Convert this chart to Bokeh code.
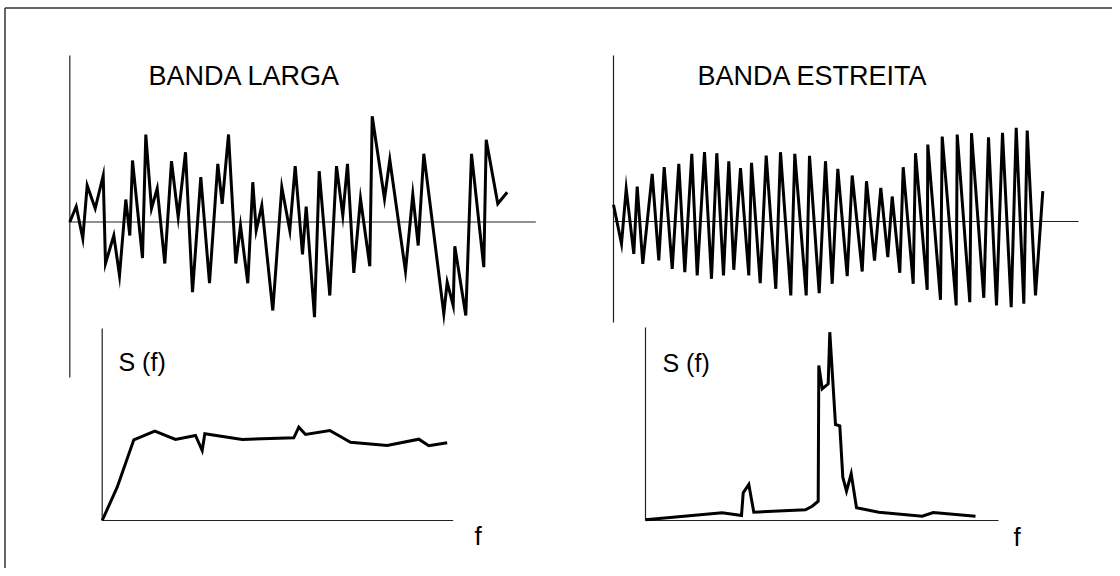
import numpy as np
from bokeh.plotting import figure
from bokeh.models import Range1d
from bokeh.core.properties import value
from bokeh.embed import file_html
from bokeh.resources import INLINE

# ---------------- data ----------------
# wide-band random signal: time, amplitude
wide_t = [0, 6.4, 13, 17.4, 25.4, 33.4, 35.7, 44, 49.7, 56, 60, 62.7, 72.7, 76, 81.7, 87.4,
          95, 101.7, 108.4, 115.7, 122.7, 131, 139.7, 148, 152.4, 158.7, 166, 170.7, 178, 183,
          186.4, 192, 203, 212, 220, 225.4, 232.7, 236.4, 244.7, 249.4, 260, 266.7, 273, 277.7,
          284, 290.7, 300, 302.4, 314.7, 320, 335.7, 343, 348.4, 354, 374, 377.4, 383.4, 385,
          396, 401.7, 414, 416.4, 428, 437.4]
wide_a = [0, 15.5, -16.5, 36.5, 13.5, 46.5, -41.5, -13.5, -53.5, 22.5, -13.5, 61.5, -36.2, 87.5,
          13.5, 33.5, -41.5, 60.8, 4.8, 69.8, -70.2, 44.8, -61.2, 58.2, 18.2, 87.5, -41.5, -3.5,
          -61.2, 39.8, -8.5, 16.5, -88.5, 34.8, -8.5, 55.8, -32.5, 15.5, -95.2, 50.8, -73.5, 55.8,
          6.5, 58.2, -50.8, 23.2, -44.2, 105.8, 23.2, 62.2, -49.2, 27.5, -23.5, 68.2, -91.8,
          -60.2, -83.5, -24.2, -93.5, 68.2, -45.2, 82.2, 18.2, 29.8]

# narrow-band random signal: time, amplitude
narrow_t = [0, 8, 12.7, 20.3, 23.7, 29.3, 38.7, 45.3, 50.7, 58.7, 65.3, 71.3, 78.3, 83.7, 91, 98,
            103.3, 110, 115.3, 120.3, 127, 135.3, 138, 146.7, 152.7, 162.3, 167, 177.3, 181.3,
            192.7, 196, 205.7, 212, 218.7, 224.3, 233.7, 238.7, 248.7, 253, 261, 267.3, 274.3,
            278.7, 286.3, 289.7, 299.7, 302, 313.7, 314.3, 327, 328.7, 342.7, 343.7, 356.3, 358,
            370.3, 375, 383, 389, 397.7, 402.7, 410.3, 413.7, 422, 429.3]
narrow_a = [16.7, -22.3, 32.7, -32.3, 35, -42.3, 47.7, -39, 54.3, -47.3, 57.7, -50.7, 67.7, -54,
            69.3, -57.3, 68.3, -54, 60.3, -48.3, 53.3, -54, 58.7, -61.7, 66, -67.3, 69.3, -74,
            67.7, -74, 65.7, -71.7, 60.3, -62.3, 52.7, -54.7, 46, -50, 40.3, -39, 33.7, -35.7,
            25, -51.3, 54.3, -62.3, 68.3, -68.3, 77, -78.3, 85, -84, 87, -80.7, 88.3, -76.3,
            84.3, -84, 88.7, -85.7, 93.7, -82.3, 91, -74, 30.3]

# spectral densities: frequency, S(f)
wide_f = [0, 15, 31.6, 52.6, 73.3, 93.3, 100, 102.6, 140, 191.6, 196.6, 203.3, 227.6, 248.3,
          285, 316.6, 326.6, 345]
wide_S = [0, 33.3, 80.7, 89.3, 81, 85, 70, 86.7, 81, 82.7, 93.3, 86, 90, 78.3, 75, 81.3,
          74.7, 77.7]

narrow_f = [0, 76.7, 96, 97.7, 103.3, 108.3, 160, 166.7, 172.7, 173.3, 176.7, 182.7, 184.3,
            190, 194.3, 197.3, 201, 205.7, 211, 233.3, 276.7, 287.7, 330]
narrow_S = [0.7, 7.7, 5, 27.7, 36, 8.3, 10.7, 14.3, 19.3, 155, 131.7, 136.7, 188.3, 96, 94.7,
            43.3, 29.3, 46.7, 12.7, 8.3, 4.3, 8, 4.3]

titles = ["BANDA LARGA", "BANDA ESTREITA"]
spec_label = "S (f)"
freq_label = "f"

# ---------------- figure ----------------
W, H = 1112, 568
PX0, PY0 = 0, 0          # page position of the canvas

p = figure(width=W, height=H, output_backend="svg", toolbar_location=None,
           x_range=Range1d(PX0, PX0 + W), y_range=Range1d(PY0 + H, PY0),
           x_axis_type=None, y_axis_type=None, min_border=0,
           outline_line_color=None, background_fill_color="white",
           border_fill_color="white")
p.grid.visible = False

# each panel gets its own 1:1 data ranges, anchored at its origin on the page
origins = {
    "wide": (69.3, 221.5),
    "narrow": (613.0, 221.0),
    "wspec": (101.7, 520.0),
    "nspec": (645.0, 520.0),
}
xr, yr = {}, {}
for name, (ox, oy) in origins.items():
    xr[name] = Range1d(PX0 - ox, PX0 + W - ox)
    yr[name] = Range1d(oy - (PY0 + H), oy - PY0)
p.extra_x_ranges = xr
p.extra_y_ranges = yr

AX = dict(line_color="#222222", line_width=1.2)

# outer frame (top and left edges)
p.segment(x0=[4.5, 4.5], y0=[7.5, 7.5], x1=[PX0 + W, 4.5], y1=[7.5, PY0 + H],
          line_color="#333333", line_width=1.5)

# time-series axes
p.segment(x0=[0, -1], y0=[166.5, 0], x1=[0, 466], y1=[-155.5, 0],
          x_range_name="wide", y_range_name="wide", **AX)
p.segment(x0=[0, 0], y0=[166, 0], x1=[0, 465], y1=[-101, 0],
          x_range_name="narrow", y_range_name="narrow", **AX)
# spectrum axes
p.segment(x0=[0, 0], y0=[192, 0], x1=[0, 351], y1=[0, 0],
          x_range_name="wspec", y_range_name="wspec", **AX)
p.segment(x0=[0, 0], y0=[193, 0], x1=[0, 353], y1=[0, 0],
          x_range_name="nspec", y_range_name="nspec", **AX)

LN = dict(line_color="black", line_width=3, line_join="miter")
p.line(wide_t, wide_a, x_range_name="wide", y_range_name="wide", **LN)
p.line(narrow_t, narrow_a, x_range_name="narrow", y_range_name="narrow", **LN)
p.line(wide_f, wide_S, x_range_name="wspec", y_range_name="wspec", **LN)
p.line(narrow_f, narrow_S, x_range_name="nspec", y_range_name="nspec", **LN)

TX = dict(text_font=value("Liberation Sans"), text_color="black",
          text_baseline="alphabetic", text_align="left")
p.text(x=[148, 697], y=[75, 75], text=titles, text_font_size="27px", **TX)
p.text(x=[118, 662], y=[361, 362], text=[spec_label, spec_label], text_font_size="25px", **TX)
p.text(x=[474, 1013], y=[535, 536], text=[freq_label, freq_label], text_font_size="26px", **TX)

open("out.html", "w").write(file_html(p, INLINE))
